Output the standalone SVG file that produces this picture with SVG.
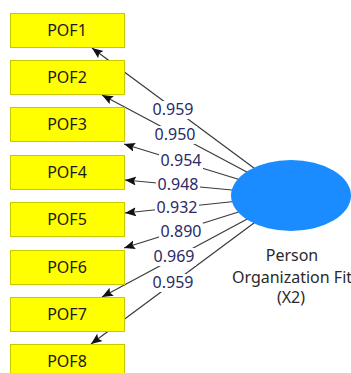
<svg xmlns="http://www.w3.org/2000/svg" width="351" height="373" viewBox="0 0 351 373">
<style>
.box{fill:#FFFF00;stroke:#C8C800;stroke-width:1}
.bt{font-family:"Noto Sans","Open Sans",sans-serif;font-size:16px;fill:#1a1a1a;text-anchor:middle}
.ln{stroke:#3a3a3a;stroke-width:1.2;fill:none;marker-end:url(#ah)}
.lb{fill:#ffffff}
.lt{font-family:"Noto Sans","Open Sans",sans-serif;font-size:16px;fill:#2a2a66;text-anchor:middle}
.nt{font-family:"Noto Sans","Open Sans",sans-serif;font-size:16px;fill:#2a2a2a;text-anchor:middle}
</style>
<defs>
<marker id="ah" markerUnits="userSpaceOnUse" markerWidth="12" markerHeight="10" refX="11" refY="4.5" orient="auto">
<path d="M0,0 L11,4.5 L0,9 L2,4.5 Z" fill="#111"/>
</marker>
</defs>
<rect width="351" height="373" fill="#ffffff"/>
<g id="connectors">
<line class="ln" x1="291" y1="195.5" x2="92" y2="48"/>
<line class="ln" x1="291" y1="195.5" x2="102" y2="95"/>
<line class="ln" x1="291" y1="195.5" x2="124" y2="144"/>
<line class="ln" x1="291" y1="195.5" x2="125" y2="180"/>
<line class="ln" x1="291" y1="195.5" x2="125" y2="213"/>
<line class="ln" x1="291" y1="195.5" x2="124" y2="248"/>
<line class="ln" x1="291" y1="195.5" x2="102" y2="297"/>
<line class="ln" x1="291" y1="195.5" x2="91" y2="344"/>
</g>
<g id="labels">
<rect class="lb" x="151" y="101" width="44" height="18"/>
<text class="lt" x="173" y="115">0.959</text>
<rect class="lb" x="153" y="126" width="44" height="18"/>
<text class="lt" x="175" y="140">0.950</text>
<rect class="lb" x="159" y="152" width="44" height="18"/>
<text class="lt" x="181" y="166">0.954</text>
<rect class="lb" x="156" y="176" width="44" height="18"/>
<text class="lt" x="178" y="190">0.948</text>
<rect class="lb" x="155" y="199" width="44" height="18"/>
<text class="lt" x="177" y="213">0.932</text>
<rect class="lb" x="159" y="223" width="44" height="18"/>
<text class="lt" x="181" y="237">0.890</text>
<rect class="lb" x="152" y="248" width="44" height="18"/>
<text class="lt" x="174" y="262">0.969</text>
<rect class="lb" x="151" y="274" width="44" height="18"/>
<text class="lt" x="173" y="288">0.959</text>
</g>
<g id="POF1"><rect class="box" x="10.5" y="13.5" width="114" height="34"/><text class="bt" x="67" y="36">POF1</text></g>
<g id="POF2"><rect class="box" x="10.5" y="60.5" width="114" height="34"/><text class="bt" x="67" y="83">POF2</text></g>
<g id="POF3"><rect class="box" x="10.5" y="107.5" width="114" height="34"/><text class="bt" x="67" y="130">POF3</text></g>
<g id="POF4"><rect class="box" x="10.5" y="155.5" width="114" height="34"/><text class="bt" x="67" y="178">POF4</text></g>
<g id="POF5"><rect class="box" x="10.5" y="202.5" width="114" height="34"/><text class="bt" x="67" y="225">POF5</text></g>
<g id="POF6"><rect class="box" x="10.5" y="250.5" width="114" height="34"/><text class="bt" x="67" y="273">POF6</text></g>
<g id="POF7"><rect class="box" x="10.5" y="297.5" width="114" height="34"/><text class="bt" x="67" y="320">POF7</text></g>
<g id="POF8"><rect class="box" x="10.5" y="344.5" width="114" height="34"/><text class="bt" x="67" y="367">POF8</text></g>
<g id="X2">
<ellipse cx="291" cy="195.5" rx="60" ry="35.5" fill="#1A8CFF"/>
<text class="nt" x="292" y="261">Person</text>
<text class="nt" x="292" y="283">Organization Fit</text>
<text class="nt" x="291" y="303">(X2)</text>
</g>
</svg>
